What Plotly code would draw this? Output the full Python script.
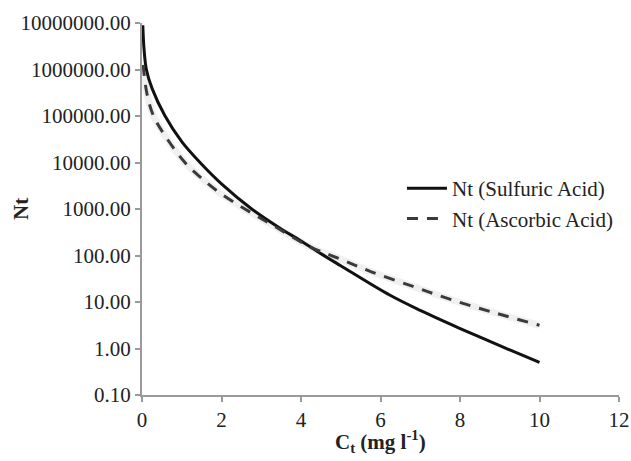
import plotly.graph_objects as go

# Values (x in mg/l, y = Nt, stored as log10)
sulf_x = [0.02, 0.03, 0.05, 0.11, 0.25, 0.58, 1.0, 1.46, 2.0, 2.76, 3.5, 3.97, 4.52, 5.0, 6.23, 7.0, 7.99, 9.0, 10.0]
sulf_log = [6.95, 6.75, 6.45, 6.0, 5.6, 5.0, 4.45, 4.0, 3.54, 3.0, 2.57, 2.33, 2.03, 1.78, 1.15, 0.82, 0.435, 0.06, -0.3]
asc_x = [0.03, 0.12, 0.29, 0.6, 1.08, 1.5, 2.0, 2.59, 3.35, 4.22, 5.0, 5.77, 6.8, 7.78, 8.9, 10.0]
asc_log = [6.1, 5.5, 5.0, 4.55, 4.0, 3.66, 3.32, 3.0, 2.62, 2.19, 1.92, 1.65, 1.34, 1.05, 0.76, 0.5]

sulf_y = [10 ** v for v in sulf_log]
asc_y = [10 ** v for v in asc_log]

y_ticks = [0.1, 1, 10, 100, 1000, 10000, 100000, 1000000, 10000000]
x_ticks = [0, 2, 4, 6, 8, 10, 12]

x_title = "<b>C<sub>t</sub> (mg l<sup>-1</sup>)</b>"
y_title = "<b>Nt</b>"

font = "Liberation Serif"
fsize = 21

fig = go.Figure()
# soft shadow under dashed line
fig.add_trace(go.Scatter(x=asc_x, y=asc_y, mode="lines",
                         line=dict(color="rgba(0,0,0,0.06)", width=7, shape="spline"),
                         showlegend=False, hoverinfo="skip"))
fig.add_trace(go.Scatter(x=sulf_x, y=sulf_y, mode="lines", name="Nt (Sulfuric Acid)",
                         line=dict(color="#111111", width=3, shape="spline")))
fig.add_trace(go.Scatter(x=asc_x, y=asc_y, mode="lines", name="Nt (Ascorbic Acid)",
                         line=dict(color="#3a3a3a", width=3, dash="11px,9px", shape="spline")))

axis_common = dict(showline=True, linecolor="#9a9a9a", linewidth=2, ticks="outside", tickcolor="#9a9a9a",
                   ticklen=5, tickwidth=1.5, showgrid=False, zeroline=False, automargin=False,
                   tickfont=dict(family=font, size=fsize, color="#222"))

fig.update_layout(
    width=631, height=461,
    margin=dict(l=142, r=12, t=23, b=66),
    paper_bgcolor="white", plot_bgcolor="white",
    xaxis=dict(range=[0, 12], tickvals=x_ticks, **axis_common),
    yaxis=dict(type="log", range=[-1, 7], tickvals=y_ticks, tickformat=".2f", **axis_common),
    legend=dict(x=0.545, y=0.61, xanchor="left", yanchor="top", bgcolor="rgba(0,0,0,0)",
                font=dict(family=font, size=fsize, color="#222"), itemwidth=40),
    showlegend=True,
    annotations=[
        dict(text=x_title, x=0.5, xref="paper", y=0, yref="paper", yshift=-46,
             xanchor="center", yanchor="middle", showarrow=False,
             font=dict(family=font, size=fsize, color="#222")),
        dict(text=y_title, x=0, xref="paper", xshift=-121, y=0.5, yref="paper",
             xanchor="center", yanchor="middle", textangle=-90, showarrow=False,
             font=dict(family=font, size=fsize, color="#222")),
    ],
)

fig.write_html("out.html")
